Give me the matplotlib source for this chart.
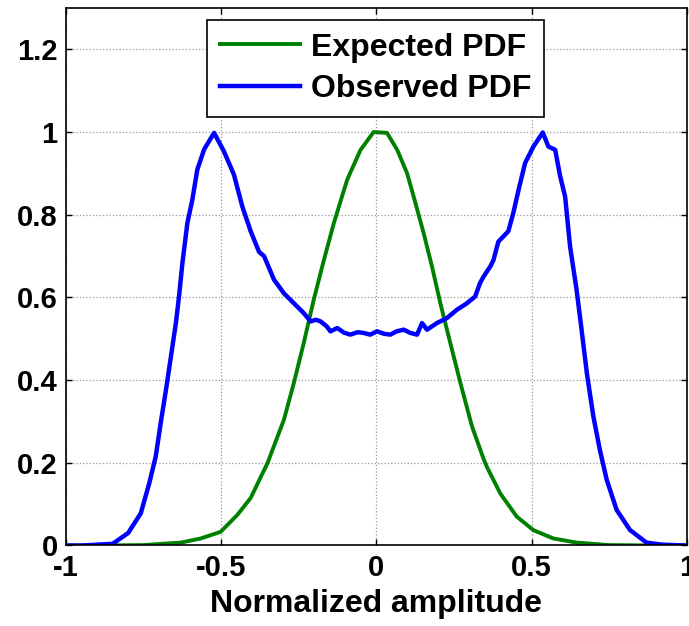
import matplotlib
matplotlib.use("Agg")
import matplotlib.pyplot as plt

plt.rcParams['font.family'] = ['Liberation Sans', 'DejaVu Sans']
plt.rcParams['font.weight'] = 'bold'
plt.rcParams['axes.unicode_minus'] = False

# expected PDF (green)
exp_x = [-1.0, -0.9, -0.75, -0.63, -0.566, -0.502, -0.448, -0.405, -0.373, -0.351,
         -0.298, -0.266, -0.234, -0.202, -0.169, -0.137, -0.094, -0.051, -0.009, 0.034,
         0.067, 0.099, 0.12, 0.152, 0.179, 0.206, 0.238, 0.27, 0.308, 0.345,
         0.356, 0.399, 0.452, 0.506, 0.57, 0.645, 0.75, 0.9, 1.0]
exp_y = [0.0, 0.0, 0.001, 0.007, 0.017, 0.033, 0.074, 0.115, 0.165, 0.199,
         0.304, 0.393, 0.49, 0.594, 0.691, 0.78, 0.885, 0.957, 1.0, 0.998,
         0.957, 0.90, 0.844, 0.756, 0.675, 0.586, 0.49, 0.395, 0.288, 0.21,
         0.19, 0.126, 0.07, 0.037, 0.017, 0.007, 0.001, 0.0, 0.0]

# observed PDF (blue)
obs_x = [-1.0, -0.95, -0.9, -0.85, -0.8, -0.759, -0.732, -0.711, -0.695, -0.678,
         -0.662, -0.646, -0.636, -0.625, -0.609, -0.593, -0.577, -0.555, -0.523, -0.491,
         -0.459, -0.432, -0.405, -0.378, -0.362, -0.33, -0.298, -0.266, -0.234, -0.212,
         -0.195, -0.18, -0.16, -0.148, -0.126, -0.105, -0.084, -0.06, -0.041, -0.02,
         0.002, 0.025, 0.045, 0.065, 0.088, 0.11, 0.131, 0.147, 0.163, 0.195,
         0.227, 0.259, 0.29, 0.318, 0.334, 0.345, 0.367, 0.377, 0.393, 0.425,
         0.441, 0.458, 0.479, 0.506, 0.536, 0.554, 0.576, 0.592, 0.608, 0.624,
         0.645, 0.661, 0.678, 0.699, 0.72, 0.742, 0.774, 0.817, 0.87, 0.92, 1.0]
obs_y = [0.0, 0.0, 0.002, 0.004, 0.03, 0.078, 0.15, 0.215, 0.296, 0.376,
         0.457, 0.538, 0.602, 0.683, 0.78, 0.836, 0.909, 0.958, 0.998, 0.953,
         0.897, 0.82, 0.76, 0.71, 0.70, 0.643, 0.61, 0.586, 0.562, 0.542,
         0.546, 0.542, 0.53, 0.518, 0.526, 0.515, 0.51, 0.516, 0.514, 0.51,
         0.518, 0.512, 0.51, 0.518, 0.522, 0.514, 0.51, 0.538, 0.522, 0.538,
         0.55, 0.57, 0.585, 0.602, 0.635, 0.65, 0.675, 0.69, 0.735, 0.76,
         0.804, 0.86, 0.925, 0.965, 0.999, 0.965, 0.957, 0.893, 0.844, 0.723,
         0.618, 0.522, 0.417, 0.312, 0.231, 0.159, 0.086, 0.0375, 0.007, 0.002, 0.0]

xticks = [-1, -0.5, 0, 0.5, 1]
xticklabels = ["-1", "-0.5", "0", "0.5", "1"]
yticks = [0, 0.2, 0.4, 0.6, 0.8, 1.0, 1.2]
yticklabels = ["0", "0.2", "0.4", "0.6", "0.8", "1", "1.2"]

fig = plt.figure(figsize=(6.89, 6.26), dpi=100)
ax = fig.add_axes([0.0958, 0.1286, 0.901, 0.8586])

ax.plot(exp_x, exp_y, color='#008000', lw=2.8, label='Expected PDF')
ax.plot(obs_x, obs_y, color='#0000ff', lw=3.2, label='Observed PDF')

ax.set_xlim(-1, 1)
ax.set_ylim(0, 1.3)
ax.set_xticks(xticks)
ax.set_xticklabels(xticklabels)
ax.set_yticks(yticks)
ax.set_yticklabels(yticklabels)
ax.tick_params(direction='in', length=4, width=1, top=True, right=True,
               labelsize=21, pad=6)
ax.grid(True, color='#999999', linestyle=':', lw=0.9)
for s in ax.spines.values():
    s.set_linewidth(1.2)

ax.set_xlabel('Normalized amplitude', fontsize=23, fontweight='bold', labelpad=5)

leg = ax.legend(loc='upper left', bbox_to_anchor=(0.227, 0.978), fontsize=23,
                fancybox=False, edgecolor='black', framealpha=1,
                handlelength=2.5, handletextpad=0.35, labelspacing=0.35,
                borderpad=0.4, borderaxespad=0)
leg.get_frame().set_linewidth(1.2)
for t in leg.get_texts():
    t.set_fontweight('bold')

fig.savefig('out.png', dpi=100)
